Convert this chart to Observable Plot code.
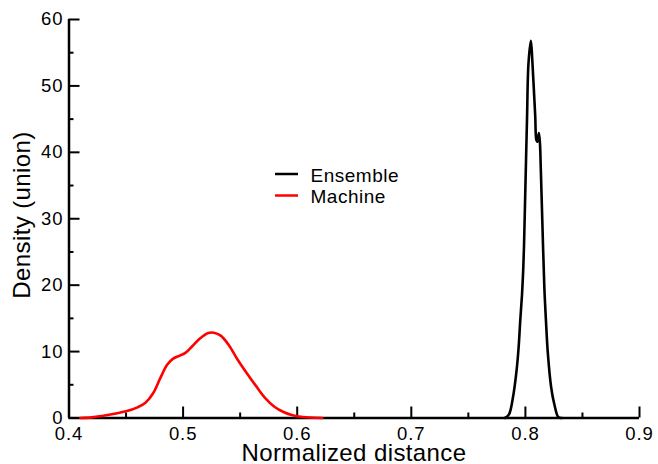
<!DOCTYPE html>
<html>
<head>
<meta charset="utf-8">
<script src="https://cdn.jsdelivr.net/npm/d3@7"></script>
<script src="https://cdn.jsdelivr.net/npm/@observablehq/plot@0.6"></script>
<style>
  body { margin: 0; background: #fff; }
  #chart { width: 658px; height: 464px; }
  #chart svg [aria-label$="tick label"] text { letter-spacing: 1px; }
</style>
</head>
<body>
<div id="chart"></div>
<script>
// ---- Data ----
const seriesNames = ["Ensemble", "Machine"];
const seriesColors = ["#000000", "#ff0000"];

const ensembleX = [0.782, 0.7855, 0.789, 0.7923, 0.794, 0.7955, 0.797, 0.798, 0.7988, 0.8, 0.8014, 0.8027, 0.8048, 0.806, 0.8071, 0.8086, 0.8097, 0.8106, 0.8118, 0.8127, 0.8135, 0.8148, 0.8166, 0.818, 0.8197, 0.8226, 0.8253, 0.829, 0.832];
const ensembleY = [0, 0.5, 3.0, 7.2, 10.5, 14.7, 18.5, 22, 26, 34.8, 44.9, 53.4, 56.8, 54, 50.5, 45.5, 41.8, 41.6, 42.9, 41.5, 37.5, 29.8, 19.7, 14.7, 9.7, 4.6, 2.1, 0.1, 0];

const machineX = [0.410, 0.420, 0.430, 0.440, 0.450, 0.460, 0.467, 0.474, 0.480, 0.486, 0.491, 0.497, 0.502, 0.508, 0.515, 0.522, 0.527, 0.533, 0.540, 0.547, 0.556, 0.564, 0.572, 0.580, 0.588, 0.596, 0.605, 0.622];
const machineY = [0, 0.1, 0.35, 0.65, 1.0, 1.6, 2.3, 3.8, 6.0, 8.0, 8.9, 9.4, 9.8, 10.8, 12.0, 12.8, 12.85, 12.4, 11.0, 9.0, 6.7, 4.8, 3.0, 1.7, 0.9, 0.4, 0.15, 0];

const xMajorTicks = [0.4, 0.5, 0.6, 0.7, 0.8, 0.9];
const xMinorTicks = [0.45, 0.55, 0.65, 0.75, 0.85];
const yMajorTicks = [0, 10, 20, 30, 40, 50, 60];
const yMinorTicks = [5, 15, 25, 35, 45, 55];

const xLabel = "Normalized distance";
const yLabel = "Density (union)";

// ---- Build tables ----
const ensemble = ensembleX.map((x, i) => ({x, y: ensembleY[i]}));
const machine = machineX.map((x, i) => ({x, y: machineY[i]}));

const font = "'Liberation Sans', Arial, Helvetica, sans-serif";

const svg = Plot.plot({
  width: 658,
  height: 464,
  marginLeft: 68.5,
  marginRight: 19,
  marginTop: 19,
  marginBottom: 46.5,
  style: { fontFamily: font, fontSize: "18.5px", color: "#000", background: "#fff" },
  x: { domain: [0.4, 0.9] },
  y: { domain: [0, 60] },
  marks: [
    Plot.axisX({ ticks: xMajorTicks, tickSize: -11, tickPadding: 19.5, strokeWidth: 2, tickFormat: d => d.toFixed(1), label: null }),
    Plot.axisX({ ticks: xMinorTicks, tickSize: -5, tickPadding: 0, strokeWidth: 2, tickFormat: () => "", label: null }),
    Plot.axisY({ ticks: yMajorTicks, tickSize: -11, tickPadding: 16.5, strokeWidth: 2, tickFormat: d => String(d), label: null }),
    Plot.axisY({ ticks: yMinorTicks, tickSize: -5, tickPadding: 0, strokeWidth: 2, tickFormat: () => "", label: null }),
    Plot.ruleY([0], { stroke: "#000", strokeWidth: 2.5 }),
    Plot.ruleX([0.4], { stroke: "#000", strokeWidth: 2.5 }),
    Plot.line(ensemble, { x: "x", y: "y", stroke: seriesColors[0], strokeWidth: 2.6, curve: "catmull-rom" }),
    Plot.line(machine, { x: "x", y: "y", stroke: seriesColors[1], strokeWidth: 2.6, curve: "catmull-rom" })
  ]
});

// Remove the empty label texts of the minor-tick axes
const s = d3.select(svg);
s.selectAll("text").filter(function () { return this.textContent.trim() === ""; }).remove();
s.selectAll("text").style("letter-spacing", "0.9px");

// Axis titles and legend
s.append("text")
  .attr("x", 354).attr("y", 460.7)
  .attr("text-anchor", "middle")
  .style("font-family", font).style("font-size", "24px").style("letter-spacing", "0.4px").attr("fill", "#000")
  .text(xLabel);
s.append("text")
  .attr("transform", "translate(30,215) rotate(-90)")
  .attr("text-anchor", "middle")
  .style("font-family", font).style("font-size", "24px").style("letter-spacing", "0.4px").attr("fill", "#000")
  .text(yLabel);

const lg = s.append("g").attr("transform", "translate(275,174)");
seriesNames.forEach((name, i) => {
  const g = lg.append("g").attr("transform", `translate(0,${i * 21.5})`);
  g.append("line").attr("x1", 0).attr("x2", 23).attr("y1", 0).attr("y2", 0)
    .attr("stroke", seriesColors[i]).attr("stroke-width", 2.5);
  g.append("text").attr("x", 35.5).attr("y", 7.5)
    .attr("text-anchor", "start")
    .style("font-family", font).style("font-size", "19px").style("letter-spacing", "0.5px").attr("fill", "#000")
    .text(name);
});

document.getElementById("chart").appendChild(svg);
</script>
</body>
</html>
